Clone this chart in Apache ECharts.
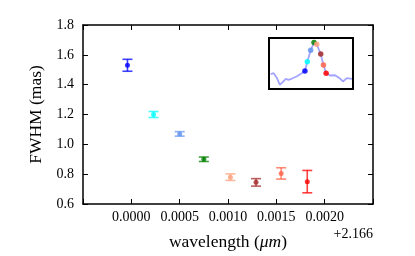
<!DOCTYPE html>
<html>
<head>
<meta charset="utf-8">
<script src="https://cdn.jsdelivr.net/npm/echarts@6/dist/echarts.min.js"></script>
<style>html,body{margin:0;padding:0;background:#fff}#c{width:415px;height:256px}</style>
</head>
<body>
<div id="c"></div>
<script>
// Main panel data (x is offset from 2.166 micron)
var wavelengthOffset = [-0.00004, 0.00023, 0.0005, 0.00075, 0.001025, 0.00129, 0.00155, 0.00182];
var fwhm = [1.53, 1.20, 1.07, 0.90, 0.78, 0.745, 0.805, 0.75];
var fwhmErr = [0.04, 0.02, 0.015, 0.015, 0.022, 0.025, 0.038, 0.075];
var pointColors = ['#0000ff', '#00ffff', '#6495ed', '#008000', '#ffa07a', '#a52a2a', '#ff6347', '#ff0000'];
var xTickLabels = ['0.0000', '0.0005', '0.0010', '0.0015', '0.0020'];
var yTickLabels = ['0.6', '0.8', '1.0', '1.2', '1.4', '1.6', '1.8'];

// Inset: spectral line profile (arbitrary units)
var insetX = [2, 5.6, 9.6, 12.8, 16, 20, 23.2, 26.8, 32.8, 38, 42.8, 45.6, 49.6, 53.6, 56.8, 61.6, 64.8, 68, 72.8, 78.8, 84, 88, 92.8, 98.8];
var insetFlux = [0.29, 0.31, 0.21, 0.084, 0.13, 0.2, 0.18, 0.2, 0.245, 0.297, 0.355, 0.535, 0.76, 0.91, 0.877, 0.684, 0.471, 0.31, 0.265, 0.27, 0.213, 0.148, 0.213, 0.2];
var insetPointX = [42.8, 45.6, 49.6, 53.6, 56.8, 61.6, 64.8, 68];
var insetPointFlux = [0.355, 0.535, 0.76, 0.91, 0.877, 0.684, 0.471, 0.31];

var serif = 'Liberation Serif, DejaVu Serif, serif';
var chart = echarts.init(document.getElementById('c'), null, {renderer: 'canvas'});

var errData = wavelengthOffset.map(function (x, i) { return [x, fwhm[i], fwhmErr[i], i]; });
var ptData = wavelengthOffset.map(function (x, i) {
  return {value: [x, fwhm[i]], itemStyle: {color: pointColors[i]}};
});
var insetLine = insetX.map(function (x, i) { return [x, insetFlux[i]]; });
var insetPts = insetPointX.map(function (x, i) {
  return {value: [x, insetPointFlux[i]], itemStyle: {color: pointColors[i]}};
});

function xFmt(v) {
  var s = v.toFixed(4);
  return xTickLabels.indexOf(s) >= 0 ? s : '';
}
function yFmt(v) {
  var s = v.toFixed(1);
  return yTickLabels.indexOf(s) >= 0 ? s : '';
}

var axisLine = {show: true, onZero: false, lineStyle: {color: '#000', width: 1.5}};
var tick = {show: true, inside: true, length: 5, lineStyle: {color: '#000', width: 1}};

chart.setOption({
  animation: false,
  grid: [
    {left: 83, top: 25, width: 290, height: 179, show: false},
    {left: 269, top: 38, width: 84, height: 51, show: true, borderColor: '#000', borderWidth: 2, backgroundColor: '#fff', z: 10}
  ],
  xAxis: [
    {gridIndex: 0, type: 'value', min: -0.0005, max: 0.0025, interval: 0.0005,
     axisLine: axisLine, axisTick: tick, splitLine: {show: false},
     axisLabel: {formatter: xFmt, fontFamily: serif, fontSize: 14, color: '#000', margin: 6, showMinLabel: true, showMaxLabel: true},
     name: 'wavelength ({i|μm})', nameLocation: 'middle', nameGap: 29,
     nameTextStyle: {fontFamily: serif, fontSize: 17.5, color: '#000',
       rich: {i: {fontFamily: serif, fontStyle: 'italic', fontSize: 17.5, color: '#000'}}}},
    {gridIndex: 0, type: 'value', position: 'top', min: -0.0005, max: 0.0025, interval: 0.0005,
     axisLine: axisLine, axisTick: tick, splitLine: {show: false}, axisLabel: {show: false}},
    {gridIndex: 1, type: 'value', min: 0, max: 100, show: false}
  ],
  yAxis: [
    {gridIndex: 0, type: 'value', min: 0.6, max: 1.8, interval: 0.2,
     axisLine: axisLine, axisTick: tick, splitLine: {show: false},
     axisLabel: {formatter: yFmt, fontFamily: serif, fontSize: 14, color: '#000', margin: 9},
     name: 'FWHM (mas)', nameLocation: 'middle', nameGap: 31,
     nameTextStyle: {fontFamily: serif, fontSize: 17.5, color: '#000'}},
    {gridIndex: 0, type: 'value', position: 'right', min: 0.6, max: 1.8, interval: 0.2,
     axisLine: axisLine, axisTick: tick, splitLine: {show: false}, axisLabel: {show: false}},
    {gridIndex: 1, type: 'value', min: 0, max: 1, show: false}
  ],
  graphic: [
    {type: 'text', right: 42, top: 227, z: 20,
     style: {text: '+2.166', font: '14px ' + serif, fill: '#000'}}
  ],
  series: [
    {type: 'custom', xAxisIndex: 0, yAxisIndex: 0, data: errData, z: 2,
     renderItem: function (params, api) {
       var x = api.value(0), y = api.value(1), e = api.value(2), idx = api.value(3);
       var top = api.coord([x, y + e]);
       var bot = api.coord([x, y - e]);
       var w = 5;
       var st = {stroke: pointColors[idx], lineWidth: 1.6, opacity: 0.75};
       return {type: 'group', children: [
         {type: 'line', shape: {x1: top[0], y1: top[1], x2: bot[0], y2: bot[1]}, style: st},
         {type: 'line', shape: {x1: top[0] - w, y1: top[1], x2: top[0] + w, y2: top[1]}, style: st},
         {type: 'line', shape: {x1: bot[0] - w, y1: bot[1], x2: bot[0] + w, y2: bot[1]}, style: st}
       ]};
     }},
    {type: 'scatter', xAxisIndex: 0, yAxisIndex: 0, data: ptData, symbolSize: 5, z: 3},
    {type: 'line', xAxisIndex: 2, yAxisIndex: 2, data: insetLine, showSymbol: false, z: 11,
     lineStyle: {color: 'rgba(90,90,255,0.55)', width: 1.8}},
    {type: 'scatter', xAxisIndex: 2, yAxisIndex: 2, data: insetPts, symbolSize: 5.5, z: 12,
     itemStyle: {opacity: 0.85}}
  ]
});
</script>
</body>
</html>
